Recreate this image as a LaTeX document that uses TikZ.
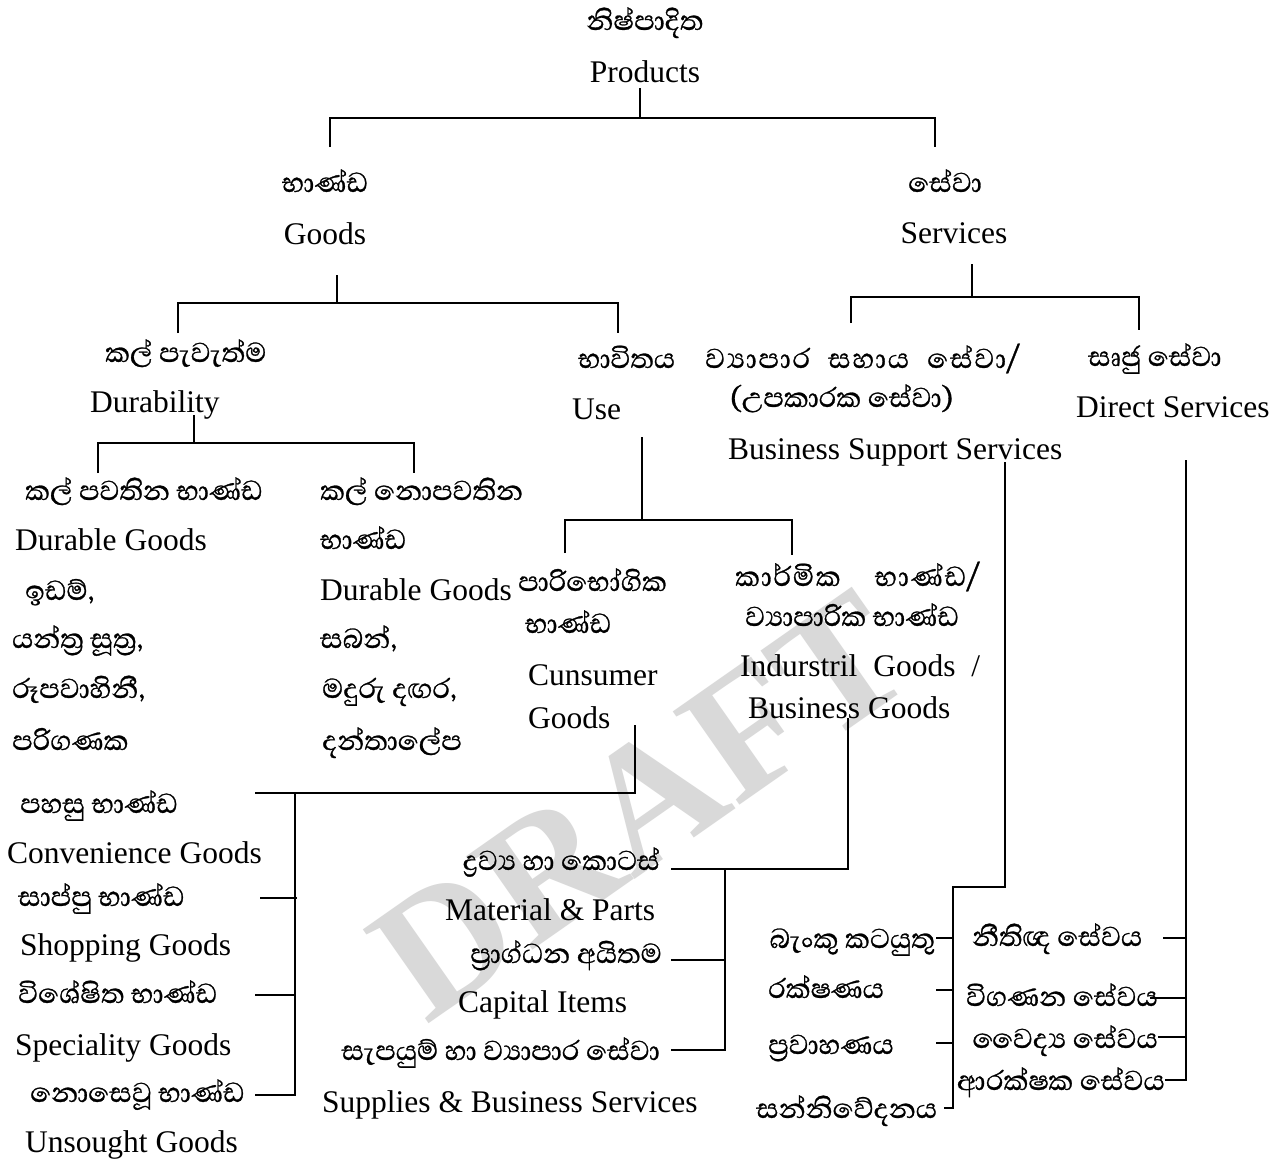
\documentclass[tikz,border=0pt]{standalone}
\usepackage{fontspec}
\setmainfont{Liberation Serif}
\newfontfamily\sinhf[Script=Sinhala,FakeBold=0.8]{Abhaya Libre}
\newfontfamily\sinhsp[Script=Sinhala,FakeBold=0.8,LetterSpace=5]{Abhaya Libre}
\tikzset{
  lat/.style={font=\fontsize{31.5}{36}\selectfont, inner sep=0pt},
  sinh/.style={font=\sinhf\fontsize{35}{40}\selectfont, inner sep=0pt},
  sinhwide/.style={font=\sinhsp\fontsize{35}{40}\selectfont, inner sep=0pt},
  ln/.style={line width=2.6pt},
  wm/.style={font=\bfseries\fontsize{175}{175}\selectfont, text=black!15, inner sep=0pt}
}
\begin{document}
\begin{tikzpicture}[x=1pt,y=-1pt]
\fill[white] (0,0) rectangle (1285,1162);
\useasboundingbox (0,0) rectangle (1285,1162);
\node[wm, rotate=35] (wmark) at (640,805) {DRAFT};

% ---------- texts ----------
\node[sinh, anchor=base] (prodS) at (645,30) {නිෂ්පාදිත};
\node[lat, anchor=base] (prod) at (645,82) {Products};
\node[sinh, anchor=base] (goodsS) at (325,192) {භාණ්ඩ};
\node[lat, anchor=base] (goods) at (325,244) {Goods};
\node[sinh, anchor=base] (servS) at (945,192) {සේවා};
\node[lat, anchor=base] (serv) at (954,243) {Services};

\node[sinh, anchor=base west] (durS) at (105,362) {කල් පැවැත්ම};
\node[lat, anchor=base west] (dur) at (90,412) {Durability};
\node[sinh, anchor=base west] (useS) at (578,368) {භාවිතය};
\node[lat, anchor=base west] (use) at (572,419) {Use};
\node[sinhwide, anchor=base west] (bssS) at (705,368) {\hbox to 315pt{ව්^^^^200dයාපාර\hfill සහාය\hfill සේවා{\sinhf/}}};
\node[sinh, anchor=base west] (bssS2) at (730,407) {(උපකාරක සේවා)};
\node[lat, anchor=base west] (bss) at (728,459) {Business Support Services};
\node[sinh, anchor=base west] (dirS) at (1088,366) {සෘජු සේවා};
\node[lat, anchor=base west] (dir) at (1076,417) {Direct Services};

\node[sinh, anchor=base west] (dgS) at (25,500) {කල් පවතින භාණ්ඩ};
\node[lat, anchor=base west] (dg) at (15,550) {Durable Goods};
\node[sinh, anchor=base west] (ex1) at (25,600) {ඉඩම්,};
\node[sinh, anchor=base west] (ex2) at (12,648) {යන්ත්^^^^200dර සූත්^^^^200dර,};
\node[sinh, anchor=base west] (ex3) at (12,698) {රූපවාහිනී,};
\node[sinh, anchor=base west] (ex4) at (12,750) {පරිගණක};

\node[sinh, anchor=base west] (ndS1) at (320,500) {කල් නොපවතින};
\node[sinh, anchor=base west] (ndS2) at (320,549) {භාණ්ඩ};
\node[lat, anchor=base west] (nd) at (320,600) {Durable Goods};
\node[sinh, anchor=base west] (ey1) at (320,648) {සබන්,};
\node[sinh, anchor=base west] (ey2) at (322,698) {මදුරු දඟර,};
\node[sinh, anchor=base west] (ey3) at (322,750) {දන්තාලේප};

\node[sinh, anchor=base west] (cgS1) at (518,591) {පාරිභෝගික};
\node[sinh, anchor=base west] (cgS2) at (525,633) {භාණ්ඩ};
\node[lat, anchor=base west] (cg1) at (528,685) {Cunsumer};
\node[lat, anchor=base west] (cg2) at (528,728) {Goods};

\node[sinhwide, anchor=base west] (igS1) at (735,586) {\hbox to 245pt{කාර්මික\hfill භාණ්ඩ{\sinhf/}}};
\node[sinh, anchor=base west] (igS2) at (745,626) {ව්^^^^200dයාපාරික භාණ්ඩ};
\node[lat, anchor=base west] (ig1) at (740,676) {\makebox[240pt][s]{Indurstril Goods /}};
\node[lat, anchor=base west] (ig2) at (748,718) {Business Goods};

\node[sinh, anchor=base west] (cv1S) at (20,813) {පහසු භාණ්ඩ};
\node[lat, anchor=base west] (cv1) at (7,863) {Convenience Goods};
\node[sinh, anchor=base west] (cv2S) at (18,906) {සාප්පු භාණ්ඩ};
\node[lat, anchor=base west] (cv2) at (20,955) {Shopping Goods};
\node[sinh, anchor=base west] (cv3S) at (18,1003) {විශේෂිත භාණ්ඩ};
\node[lat, anchor=base west] (cv3) at (15,1055) {Speciality Goods};
\node[sinh, anchor=base west] (cv4S) at (30,1102) {නොසෙවූ භාණ්ඩ};
\node[lat, anchor=base west] (cv4) at (25,1152) {Unsought Goods};

\node[sinh, anchor=base east] (in1S) at (660,870) {ද්^^^^200dරව්^^^^200dය හා කොටස්};
\node[lat, anchor=base west] (in1) at (445,920) {Material \& Parts};
\node[sinh, anchor=base east] (in2S) at (662,963) {ප්^^^^200dරාග්ධන අයිතම};
\node[lat, anchor=base west] (in2) at (458,1012) {Capital Items};
\node[sinh, anchor=base east] (in3S) at (660,1060) {සැපයුම් හා ව්^^^^200dයාපාර සේවා};
\node[lat, anchor=base west] (in3) at (322,1112) {Supplies \& Business Services};

\node[sinh, anchor=base east] (bs1) at (935,948) {බැංකු කටයුතු};
\node[sinh, anchor=base west] (bs2) at (768,998) {රක්ෂණය};
\node[sinh, anchor=base west] (bs3) at (768,1054) {ප්^^^^200dරවාහණය};
\node[sinh, anchor=base west] (bs4) at (756,1118) {සන්නිවේදනය};

\node[sinh, anchor=base west] (ds1) at (972,946) {නීතිඥ සේවය};
\node[sinh, anchor=base east] (ds2) at (1158,1006) {විගණන සේවය};
\node[sinh, anchor=base east] (ds3) at (1158,1048) {වෛද්^^^^200dය සේවය};
\node[sinh, anchor=base east] (ds4) at (1165,1090) {ආරක්ෂක සේවය};

% ---------- junction coordinates ----------
\coordinate (pT) at (640,88);  \coordinate (pB) at (640,118);
\coordinate (pL) at (330,118); \coordinate (pLb) at (330,147);
\coordinate (pR) at (935,118); \coordinate (pRb) at (935,147);

\coordinate (gT) at (337,275); \coordinate (gB) at (337,303);
\coordinate (gL) at (178,303); \coordinate (gLb) at (178,333);
\coordinate (gR) at (618,303); \coordinate (gRb) at (618,333);

\coordinate (dT) at (194,415); \coordinate (dB) at (194,443);
\coordinate (dL) at (98,443);  \coordinate (dLb) at (98,473);
\coordinate (dR) at (414,443); \coordinate (dRb) at (414,473);

\coordinate (sT) at (972,264); \coordinate (sB) at (972,297);
\coordinate (sL) at (851,297); \coordinate (sLb) at (851,323);
\coordinate (sR) at (1139,297); \coordinate (sRb) at (1139,330);

\coordinate (uT) at (642,437); \coordinate (uB) at (642,520);
\coordinate (uL) at (565,520); \coordinate (uLb) at (565,553);
\coordinate (uR) at (792,520); \coordinate (uRb) at (792,555);

\coordinate (cT) at (635,725); \coordinate (cB) at (635,793);
\coordinate (cL) at (255,793); \coordinate (cV) at (295,793);
\coordinate (cVb) at (295,1095);
\coordinate (c2a) at (260,898); \coordinate (c2b) at (297,898);
\coordinate (c3a) at (255,995); \coordinate (c3b) at (295,995);
\coordinate (c4a) at (255,1095);

\coordinate (iT) at (848,718); \coordinate (iB) at (848,869);
\coordinate (iL) at (671,869); \coordinate (iV) at (725,869);
\coordinate (iVb) at (725,1050);
\coordinate (i2a) at (671,960); \coordinate (i2b) at (725,960);
\coordinate (i3a) at (671,1050);

\coordinate (bT) at (1005,462); \coordinate (bB) at (1005,887);
\coordinate (bL) at (953,887);  \coordinate (bVb) at (953,1108);
\coordinate (b1a) at (936,938); \coordinate (b1b) at (953,938);
\coordinate (b2a) at (936,990); \coordinate (b2b) at (953,990);
\coordinate (b3a) at (936,1043); \coordinate (b3b) at (953,1043);
\coordinate (b4a) at (944,1108);

\coordinate (rT) at (1186,460); \coordinate (rB) at (1186,1080);
\coordinate (r1a) at (1163,938); \coordinate (r1b) at (1186,938);
\coordinate (r2a) at (1150,998); \coordinate (r2b) at (1186,998);
\coordinate (r3a) at (1158,1037); \coordinate (r3b) at (1186,1037);
\coordinate (r4a) at (1165,1080);

% ---------- connectors ----------
\draw[ln] (pT) -- (pB);
\draw[ln] (pLb) -- (pL) -- (pR) -- (pRb);
\draw[ln] (gT) -- (gB);
\draw[ln] (gLb) -- (gL) -- (gR) -- (gRb);
\draw[ln] (dT) -- (dB);
\draw[ln] (dLb) -- (dL) -- (dR) -- (dRb);
\draw[ln] (sT) -- (sB);
\draw[ln] (sLb) -- (sL) -- (sR) -- (sRb);
\draw[ln] (uT) -- (uB);
\draw[ln] (uLb) -- (uL) -- (uR) -- (uRb);

\draw[ln] (cT) -- (cB) -- (cL);
\draw[ln] (cV) -- (cVb) -- (c4a);
\draw[ln] (c2a) -- (c2b);
\draw[ln] (c3a) -- (c3b);

\draw[ln] (iT) -- (iB) -- (iL);
\draw[ln] (iV) -- (iVb) -- (i3a);
\draw[ln] (i2a) -- (i2b);

\draw[ln] (bT) -- (bB) -- (bL) -- (bVb) -- (b4a);
\draw[ln] (b1a) -- (b1b);
\draw[ln] (b2a) -- (b2b);
\draw[ln] (b3a) -- (b3b);

\draw[ln] (rT) -- (rB) -- (r4a);
\draw[ln] (r1a) -- (r1b);
\draw[ln] (r2a) -- (r2b);
\draw[ln] (r3a) -- (r3b);
\end{tikzpicture}
\end{document}
